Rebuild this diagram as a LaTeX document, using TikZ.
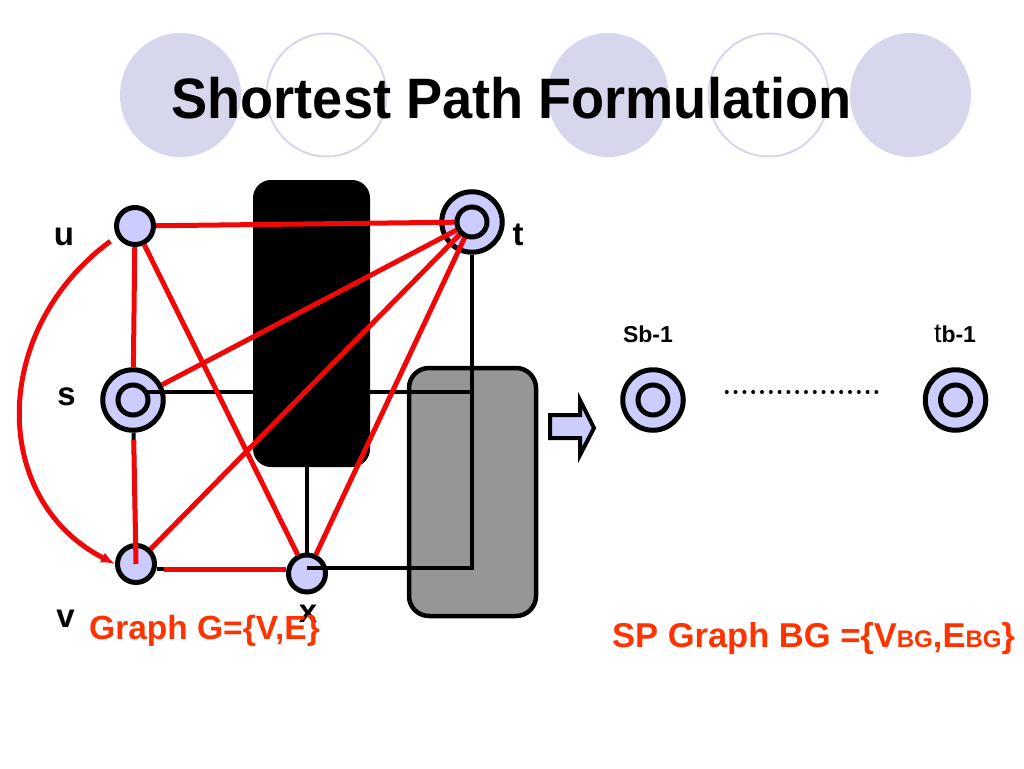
\documentclass[tikz,border=0pt]{standalone}
\usepackage{fontspec}
\setmainfont{Liberation Sans}
\usepackage{tikz}
\usetikzlibrary{arrows.meta}
\definecolor{nodefill}{RGB}{204,204,255}
\definecolor{titlefill}{RGB}{214,214,236}
\definecolor{edgered}{RGB}{240,8,8}
\definecolor{labelred}{RGB}{255,51,0}
\definecolor{boxgray}{RGB}{150,150,150}

\begin{document}
\begin{tikzpicture}[x = 1pt, y = -1pt,
    ring/.style = {circle, draw, line width = 5pt, fill = nodefill, minimum size = 60.5pt, inner sep = 0pt},
    core/.style = {circle, draw, line width = 5pt, fill = nodefill, minimum size = 30pt, inner sep = 0pt},
    vdot/.style = {circle, draw, line width = 5pt, fill = nodefill, minimum size = 37pt, inner sep = 0pt},
    redge/.style = {draw = edgered, line width = 5pt},
    bedge/.style = {draw = black, line width = 4pt},
    vlabel/.style = {font = \fontsize{33}{33}\selectfont\bfseries, anchor = base, inner sep = 0pt},
    gcaption/.style = {font = \fontsize{33.5}{33.5}\selectfont\bfseries, text = labelred, anchor = base west, inner sep = 0pt}]
      \useasboundingbox (0, 0) rectangle (1024, 768);

      % title
      \fill [titlefill] (180.5, 95) ellipse (60.5 and 62);
      \draw [titlefill, line width = 2pt] (326.5, 95) ellipse (60 and 61.5);
      \fill [titlefill] (608, 95) ellipse (60.5 and 62);
      \draw [titlefill, line width = 2pt] (768.5, 95) ellipse (60 and 61.5);
      \fill [titlefill] (910.5, 95) ellipse (60.5 and 62);
      \node [font = \fontsize{57}{57}\selectfont\bfseries, anchor = base, inner sep = 0pt] (title) at (511.5, 118) {\scalebox{0.95}[1]{Shortest Path Formulation}};

      % boxes
      \node [fill = black, rounded corners = 18pt, minimum width = 117pt, minimum height = 287pt] (bbox) at (311.5, 323.5) {};
      \node [draw, fill = boxgray, line width = 4.5pt, rounded corners = 20pt, minimum width = 127pt, minimum height = 248pt] (gbox) at (472.5, 492) {};

      % graph G
      \node [ring] (s) at (133, 400) {};
      \node [ring] (t) at (472, 222) {};
      \node [vdot] (u) at (135, 226) {};
      \node [vdot] (v) at (136, 564) {};
      \node [vdot] (x) at (307, 573.5) {};

      \draw [bedge] ([yshift = 8pt] s.center) -| (t);
      \draw [bedge] ([yshift = 5.5pt] x.center) -| (t);
      \draw [bedge] (x |- bbox.south) -- (x);
      \draw [bedge] (s) -- (v);
      \draw [bedge] (v.east |- 0, 569) -- (x.west |- 0, 569);

      \draw [redge] (u) -- (t.center);
      \draw [redge] (u) -- (s);
      \draw [redge] (u) -- (x);
      \draw [redge] (s) -- (t.center);
      \draw [redge, shorten <= 7pt] (s) -- (v.center);
      \draw [redge] (v) -- (t.center);
      \draw [redge, shorten <= 7pt] (v.east |- 0, 569) -- (x.west |- 0, 569);
      \draw [redge] (x) -- (t.center);
      \draw [redge, shorten <= 8pt, -{Latex[length = 14pt, width = 11pt]}] (u.210) .. controls (-10, 330) and (-10, 500) .. (v.west);

      \node [core] (s-in) at (s) {};
      \node [core] (t-in) at (t) {};

      \node [vlabel] at (64, 245) {u};
      \node [vlabel] at (66.5, 405) {s};
      \node [vlabel] at (518, 245) {t};
      \node [vlabel] at (65.5, 627) {v};
      \node [vlabel] at (308, 622) {x};
      \node [gcaption] (gcap) at (89, 639) {Graph G=\{V,E\}};

      % arrow
      \draw [fill = nodefill, line width = 4pt, line join = miter] (550, 415) -- (580, 415) -- (580, 400) -- (594, 428) -- (580, 455) -- (580, 438) -- (550, 438) -- cycle;

      % graph BG
      \node [ring] (sb) at (653, 400) {};
      \node [core] (sb-in) at (sb) {};
      \node [ring] (tb) at (955.5, 400) {};
      \node [core] (tb-in) at (tb) {};
      \draw [line width = 4pt, line cap = round, dash pattern = on 0pt off 8.8pt, shorten <= 41pt, shorten >= 45pt] ([yshift = 8pt] sb.east) -- ([yshift = 8pt] tb.west);
      \node [font = \fontsize{23}{23}\selectfont\bfseries, anchor = base, inner sep = 0pt] at (648, 342) {Sb-1};
      \node [anchor = base, inner sep = 0pt] at (955, 342) {\fontsize{27}{27}\selectfont t\bfseries\fontsize{23}{23}\selectfont b-1};
      \node [gcaption] (bgcap) at (612, 647) {\fontsize{34.5}{34.5}\selectfont SP Graph BG =\{V{\fontsize{24}{24}\selectfont BG},E{\fontsize{24}{24}\selectfont BG}\}};
    \end{tikzpicture}
\end{document}
